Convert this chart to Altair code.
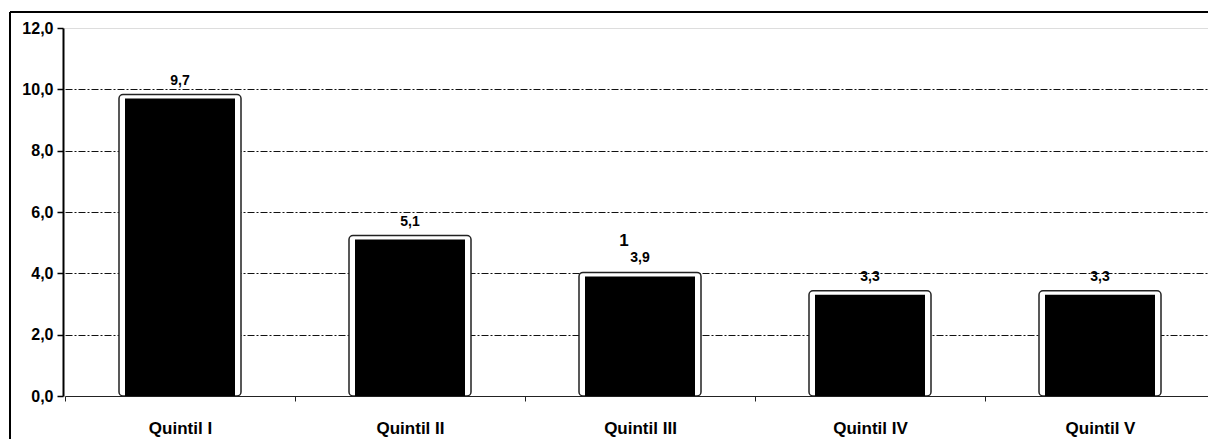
import altair as alt
import pandas as pd

categories = ["Quintil I", "Quintil II", "Quintil III", "Quintil IV", "Quintil V"]
values = [9.7, 5.1, 3.9, 3.3, 3.3]

note_category = ["Quintil III"]
note_text = ["1"]
note_value = [5.05]

df = pd.DataFrame({"cat": categories, "val": values})
df_note = pd.DataFrame({"cat": note_category, "txt": note_text, "val": note_value})

FONT = "Liberation Sans"

x_enc = alt.X("cat:N", sort=categories, title=None,
              scale=alt.Scale(paddingInner=0, paddingOuter=0, range=[2, 1152]),
              axis=alt.Axis(labelAngle=0, labelFont=FONT, labelFontWeight="bold",
                            labelFontSize=17, labelColor="black", labelPadding=19,
                            tickBand="extent", tickSize=5, tickColor="#222",
                            domainColor="#222", domainWidth=1, grid=False))
y_enc = alt.Y("val:Q", title=None,
              scale=alt.Scale(domain=[0, 12], nice=False),
              axis=alt.Axis(values=[0, 2, 4, 6, 8, 10, 12],
                            labelExpr="replace(format(datum.value, '.1f'), '.', ',')",
                            labelFont=FONT, labelFontWeight="bold", labelFontSize=16,
                            labelColor="black", labelPadding=4,
                            tickSize=6, tickColor="black", tickWidth=1.5,
                            domainColor="black", domainWidth=2,
                            grid=True, gridColor="#111", gridWidth=1,
                            gridDash=[7, 2, 2, 2],
                            gridOpacity={"condition": {"test": "datum.value >= 12 || datum.value <= 0", "value": 0}, "value": 1}))

base = alt.Chart(df)

outer = base.mark_bar(size=122, fill="white", stroke="#222", strokeWidth=1.5,
                      cornerRadius=4, yOffset=-4, y2Offset=0).encode(
    x=x_enc, y=y_enc, y2=alt.datum(0))
inner = base.mark_bar(size=110, color="black").encode(x=x_enc, y=y_enc)

labels = base.transform_calculate(
    lbl="replace(format(datum.val, '.1f'), '.', ',')"
).mark_text(font=FONT, fontWeight="bold", fontSize=14, color="black",
            baseline="bottom", dy=-11).encode(x=x_enc, y=y_enc, text="lbl:N")

note = alt.Chart(df_note).mark_text(font=FONT, fontWeight="bold", fontSize=17,
                                    color="black", xOffset=-16).encode(
    x=x_enc, y=y_enc, text="txt:N")

frame_left = base.mark_rule(color="black", strokeWidth=2).encode(
    x=alt.value(-53), y=alt.value(-16), y2=alt.value(440))
frame_top = base.mark_rule(color="black", strokeWidth=2).encode(
    x=alt.value(-53), x2=alt.value(1200), y=alt.value(-16))

chart = alt.layer(outer, inner, labels, note, frame_left, frame_top).properties(
    width=1145, height=368,
    autosize=alt.AutoSizeParams(type="none"),
    padding={"left": 55, "top": 20, "right": 0, "bottom": 46},
).configure_view(stroke=None).configure(background="white")

chart.save("out.html", embed_options={"renderer": "svg", "actions": False})
